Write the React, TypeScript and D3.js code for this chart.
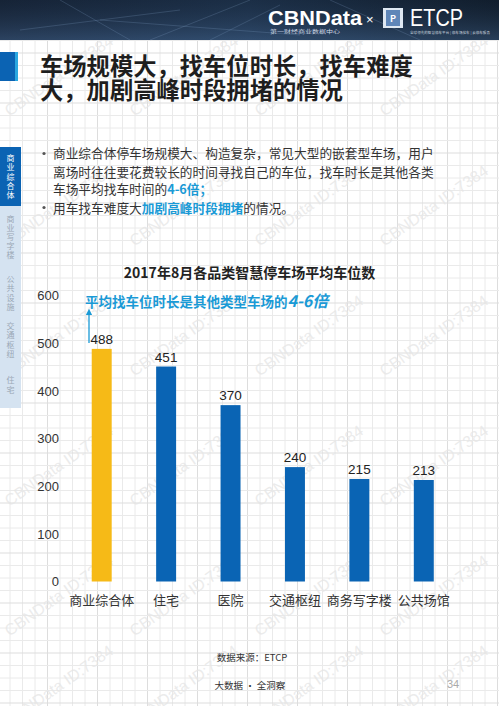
import React from "react";
import * as d3 from "d3";

const categories = ["商业综合体", "住宅", "医院", "交通枢纽", "商务写字楼", "公共场馆"];
const values = [488, 451, 370, 240, 215, 213];
const yTicks = [0, 100, 200, 300, 400, 500, 600];
const sideTabs = ["商业综合体", "商业写字楼", "公共设施", "交通枢纽", "住宅"];

const W = 499;
const H = 706;
const FONT = "'Noto Sans CJK SC', 'Noto Sans', sans-serif";

export default function App() {
  const x = d3.scaleBand<string>().domain(categories).range([69.5, 456]).paddingInner(0.69).paddingOuter(0.345);
  const y = d3.scaleLinear().domain([0, 600]).range([581.5, 295.5]);

  const gridV = d3.range(-2.5, W, 12.5);
  const gridH = d3.range(3, H, 12.5);

  const wm: [number, number][] = [];
  [80, 210, 340, 470, 600, 690].forEach((yy) => {
    [62, 187, 312, 437].forEach((xx) => wm.push([xx, yy]));
  });

  const tabPos = [
    { top: 147, bottom: 206 },
    { top: 206, bottom: 268 },
    { top: 268, bottom: 318 },
    { top: 318, bottom: 362 },
    { top: 362, bottom: 408 },
  ];

  return (
    <svg width={W} height={H} style={{ position: "absolute", left: 0, top: 0, display: "block" }} fontFamily={FONT}>
      <defs>
        <linearGradient id="hdr" x1="0" y1="0" x2="1" y2="0">
          <stop offset="0" stopColor="#1b2c44" />
          <stop offset="0.5" stopColor="#223a58" />
          <stop offset="1" stopColor="#152538" />
        </linearGradient>
        <linearGradient id="hdrV" x1="0" y1="0" x2="0" y2="1">
          <stop offset="0" stopColor="#000" stopOpacity="0.2" />
          <stop offset="1" stopColor="#4b6d96" stopOpacity="0.35" />
        </linearGradient>
        <marker id="arr" viewBox="0 0 10 10" refX="5" refY="5" markerWidth="5" markerHeight="5" orient="auto-start-reverse">
          <path d="M0,0 L10,5 L0,10 z" fill="#1a9ad6" />
        </marker>
      </defs>
      <rect x={0} y={0} width={W} height={H} fill="#ffffff" />
      {/* grid paper */}
      <g>
        {gridV.map((gx, i) => (
          <line key={"v" + i} x1={gx} x2={gx} y1={40} y2={H} stroke={i % 4 === 0 ? "#dddddd" : "#eaeaea"} strokeWidth={1} />
        ))}
        {gridH.map((gy, i) => (
          <line key={"h" + i} x1={0} x2={W} y1={gy} y2={gy} stroke={i % 4 === 0 ? "#dddddd" : "#eaeaea"} strokeWidth={1} />
        ))}
      </g>
      {/* watermarks */}
      <g>
        {wm.map(([wx, wy], i) => (
          <text key={"wm" + i} x={wx} y={wy} transform={`rotate(-35 ${wx} ${wy})`} fontSize={16} fill="#e6e6e6" fillOpacity={0.8} textAnchor="middle" fontFamily="'Liberation Sans', Arial, sans-serif">
            CBNData ID:7384
          </text>
        ))}
      </g>
      {/* header banner */}
      <rect x={0} y={0} width={W} height={40} fill="url(#hdr)" />
      <rect x={0} y={0} width={W} height={40} fill="url(#hdrV)" />
      <g stroke="#8fb3d9" strokeOpacity={0.35} strokeWidth={0.6}>
        <line x1={150} y1={40} x2={250} y2={0} />
        <line x1={210} y1={40} x2={280} y2={5} />
        <line x1={60} y1={0} x2={130} y2={40} />
        <line x1={330} y1={0} x2={420} y2={40} />
        <line x1={100} y1={20} x2={300} y2={35} />
        <line x1={20} y1={30} x2={180} y2={10} />
      </g>
      <text x={268} y={25} fontSize={21} fontWeight={700} fill="#ffffff" textLength={94} lengthAdjust="spacingAndGlyphs" fontFamily="'Liberation Sans', Arial, sans-serif">CBNData</text>
      <text x={270} y={33} fontSize={5} fill="#d0d8e4" textLength={70} lengthAdjust="spacingAndGlyphs">第一财经商业数据中心</text>
      <text x={366} y={24} fontSize={13} fill="#ffffff" fontFamily="'Liberation Sans', Arial, sans-serif">×</text>
      <rect x={383} y={8} width={20} height={20} fill="#dfe8f2" />
      <rect x={386} y={10} width={14} height={16} fill="#5f86b8" />
      <text x={393} y={22} fontSize={9} fill="#ffffff" textAnchor="middle" fontWeight={700}>P</text>
      <text x={410} y={26} fontSize={23} fill="#ffffff" textLength={53} lengthAdjust="spacingAndGlyphs" fontFamily="'Liberation Sans', Arial, sans-serif">ETCP</text>
      <text x={410} y={34} fontSize={3.5} fill="#c8d2de" textLength={80} lengthAdjust="spacingAndGlyphs">全球领先的智慧停车平台 | 停车场找车 | 云停车服务</text>
      {/* title block */}
      <rect x={0} y={52} width={15} height={29} fill="#0b63b3" />
      <rect x={15} y={52} width={3} height={29} fill="#2aa7e0" />
      <text x={40} y={75} fontSize={23.3} fontWeight={700} fill="#1e1e1e">车场规模大，找车位时长，找车难度</text>
      <text x={40} y={99} fontSize={23.3} fontWeight={700} fill="#1e1e1e">大，加剧高峰时段拥堵的情况</text>
      {/* side tabs */}
      <rect x={0} y={147} width={21} height={261} fill="#d5e3f1" />
      <rect x={0} y={147} width={21} height={59} fill="#0b63b3" />
      {sideTabs.map((t, i) => {
        const chars = Array.from(t);
        const mid = (tabPos[i].top + tabPos[i].bottom) / 2;
        const sp = 9.2;
        const start = mid - ((chars.length - 1) * sp) / 2;
        return chars.map((c, j) => (
          <text key={"tab" + i + j} x={10.5} y={start + j * sp + 3} fontSize={8} textAnchor="middle" fill={i === 0 ? "#ffffff" : "#9aa7b5"}>
            {c}
          </text>
        ));
      })}
      {/* bullets */}
      <g fontSize={12.7} fill="#333333">
        <circle cx={44} cy={153.5} r={1.6} fill="#555" />
        <text x={53} y={158}>商业综合体停车场规模大、构造复杂，常见大型的嵌套型车场，用户</text>
        <text x={53} y={176.5}>离场时往往要花费较长的时间寻找自己的车位，找车时长是其他各类</text>
        <text x={53} y={194}>
          车场平均找车时间的<tspan fill="#1a9ad6" fontWeight={700}>4-6倍；</tspan>
        </text>
        <circle cx={44} cy={207.5} r={1.6} fill="#555" />
        <text x={53} y={212.5}>
          用车找车难度大<tspan fill="#1a9ad6" fontWeight={700}>加剧高峰时段拥堵</tspan>的情况。
        </text>
      </g>
      {/* chart title */}
      <text x={249.5} y={277.5} fontSize={14} fontWeight={700} textAnchor="middle" fill="#222">
        2017年8月各品类智慧停车场平均车位数
      </text>
      {/* y axis labels */}
      {yTicks.map((t) => (
        <text key={"yt" + t} x={59} y={y(t) + 4.8} fontSize={13} textAnchor="end" fill="#333" fontFamily="'Liberation Sans', Arial, sans-serif">
          {t}
        </text>
      ))}
      {/* bars */}
      {categories.map((c, i) => (
        <g key={"bar" + c}>
          <rect x={x(c)!} y={y(values[i])} width={x.bandwidth()} height={y(0) - y(values[i])} fill={i === 0 ? "#f6ba17" : "#0a64b4"} />
          <text x={x(c)! + x.bandwidth() / 2} y={y(values[i]) - 5} fontSize={13.5} textAnchor="middle" fill="#222" fontFamily="'Liberation Sans', Arial, sans-serif">
            {values[i]}
          </text>
          <text x={x(c)! + x.bandwidth() / 2} y={604.5} fontSize={13} textAnchor="middle" fill="#333">
            {c}
          </text>
        </g>
      ))}
      {/* annotation */}
      <line x1={89} y1={343} x2={89} y2={312} stroke="#1a9ad6" strokeWidth={1.3} markerEnd="url(#arr)" />
      <text x={85} y={306.5} fontSize={13.5} fontWeight={700} fill="#1a9ad6">
        平均找车位时长是其他类型车场的<tspan fontStyle="italic" fontSize={16}>4-6倍</tspan>
      </text>
      {/* footer */}
      <text x={252} y={660.5} fontSize={9.5} textAnchor="middle" fill="#333">数据来源：ETCP</text>
      <text x={250} y={688.5} fontSize={9.5} textAnchor="middle" fill="#333">大数据 · 全洞察</text>
      <text x={453} y={688} fontSize={11} textAnchor="middle" fill="#aaaaaa" fontFamily="'Liberation Sans', Arial, sans-serif">34</text>
    </svg>
  );
}
